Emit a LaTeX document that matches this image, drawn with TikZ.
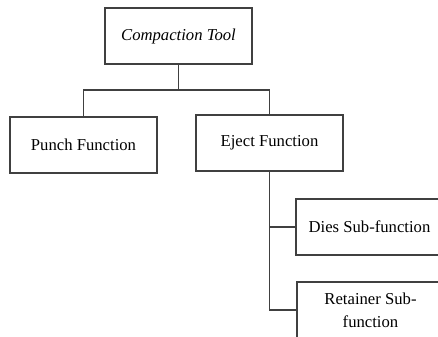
\documentclass[tikz,border=0pt]{standalone}
\usepackage{fontspec}
\setmainfont{Liberation Serif}
\usetikzlibrary{positioning}

\tikzset{
  fbox/.style={draw=black!75,line width=0.8pt,fill=white,minimum width=110.25pt,
    minimum height=42pt,inner sep=0pt,align=center,font=\fontsize{12.5}{17}\selectfont},
  link/.style={draw=black!75,line width=0.8pt}
}

\begin{document}
\begin{tikzpicture}[x=0.75pt,y=-0.75pt]
    \clip (0,0) rectangle (438,336);
    \useasboundingbox (0,0) rectangle (438,336);
    % boxes
    \node[fbox,font=\fontsize{12.5}{17}\selectfont\itshape] (tool) at (178.5,36) {Compaction Tool};
    \node[fbox] (punch) at (83.5,145) {Punch Function};
    \node[fbox] (eject) at (269.5,143) {Eject Function};
    \node[fbox] (dies) at (369.5,227) {Dies Sub-function};
    \node[fbox] (retainer) at (370.5,310) {Retainer Sub-\\function};
    % connectors
    \coordinate (split) at (178.5,90);
    \coordinate (tapdies) at (269.5,227);
    \coordinate (tapret) at (269.5,310);
    \draw[link] (tool.south) -- (split);
    \draw[link] (punch.north) |- (split) -| (eject.north);
    \draw[link] (eject.south) -- (tapret) -- (retainer.west);
    \draw[link] (tapdies) -- (dies.west);
  \end{tikzpicture}
\end{document}
